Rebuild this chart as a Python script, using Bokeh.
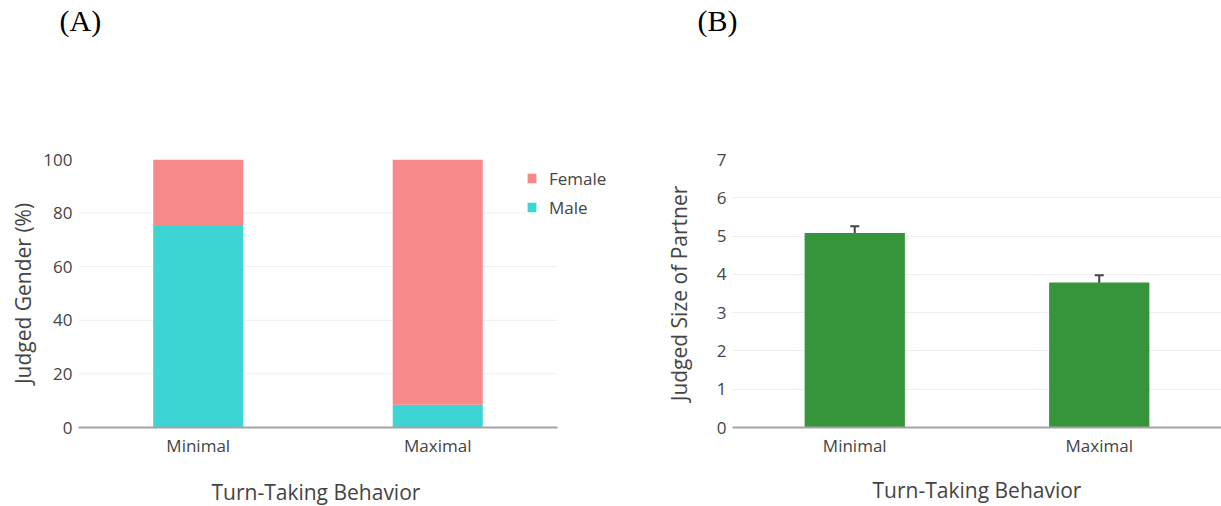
from bokeh.plotting import figure
from bokeh.models import (ColumnDataSource, FactorRange, Range1d, Title,
                          FixedTicker, Legend, LegendItem, Whisker, TeeHead)
from bokeh.layouts import row
from bokeh.embed import file_html
from bokeh.resources import INLINE

# ---------------- data ----------------
categories = ["Minimal", "Maximal"]
male_pct = [75.2, 8.5]
female_pct = [24.8, 91.5]
gender_ticks = [0, 20, 40, 60, 80, 100]

size_mean = [5.08, 3.79]
size_err = [0.175, 0.185]
size_ticks = [0, 1, 2, 3, 4, 5, 6, 7]

x_title = "Turn-Taking Behavior"
y_title_a = "Judged Gender (%)"
y_title_b = "Judged Size of Partner"
panel_labels = ["(A)", "(B)"]

FONT = "Open Sans"
TXT = "#444444"
GRID = "#eeeeee"
AXIS = "#a3a3a3"
FEMALE = "#f8898a"
MALE = "#3dd4d4"
GREEN = "#36943a"


def style_axes(p, ytitle, ystand, xlabel):
    p.outline_line_color = None
    p.xgrid.grid_line_color = None
    for ax in p.yaxis:
        ax.axis_line_color = None
        ax.major_tick_line_color = None
        ax.minor_tick_line_color = None
        ax.major_tick_out = 0
        ax.major_tick_in = 0
        ax.minor_tick_out = 0
        ax.major_label_text_font = FONT
        ax.major_label_text_font_size = "17px"
        ax.major_label_text_color = TXT
        ax.major_label_standoff = 6
        ax.axis_label = ytitle
        ax.axis_label_text_font = FONT
        ax.axis_label_text_font_size = "21px"
        ax.axis_label_text_font_style = "normal"
        ax.axis_label_text_color = TXT
        ax.axis_label_standoff = ystand
    for ax in p.xaxis:
        ax.axis_line_color = AXIS
        ax.axis_line_width = 2
        ax.major_tick_line_color = None
        ax.minor_tick_line_color = None
        ax.major_tick_out = 0
        ax.major_tick_in = 0
        ax.minor_tick_out = 0
        ax.major_label_text_font = FONT
        ax.major_label_text_font_size = "17px"
        ax.major_label_text_color = TXT
        ax.major_label_standoff = 6
        if xlabel:
            ax.axis_label = x_title
            ax.axis_label_text_font = FONT
            ax.axis_label_text_font_size = "21px"
            ax.axis_label_text_font_style = "normal"
            ax.axis_label_text_color = TXT
            ax.axis_label_standoff = 16


def panel_title(p, text, offset):
    # a blank spacer panel keeps the panel label near the top of the figure
    p.add_layout(Title(text=" ", standoff=120, text_font_size="1px"), "above")
    p.title = Title(text=text, align="left", offset=offset, standoff=0,
                    text_font="Liberation Serif", text_font_size="30px",
                    text_font_style="normal", text_color="#000000")


# ---------------- panel A ----------------
n = len(categories)
x_pos = [i + 0.5 for i in range(n)]
src_a = ColumnDataSource(dict(x=x_pos, Male=male_pct, Female=female_pct))
p1 = figure(x_range=Range1d(0, 2.284), y_range=Range1d(0, gender_ticks[-1]),
            width=660, height=506, output_backend="svg", toolbar_location=None,
            min_border_left=78, min_border_right=35, min_border_top=159, min_border_bottom=79)
# horizontal grid lines spanning only the category area
for t in gender_ticks[1:-1]:
    p1.segment(x0=0, x1=n, y0=t, y1=t, line_color=GRID, line_width=1)
p1.ygrid.grid_line_color = None
rs = p1.vbar_stack(["Male", "Female"], x="x", width=0.376, source=src_a,
                   color=[MALE, FEMALE], line_color=None)
p1.yaxis.ticker = FixedTicker(ticks=gender_ticks)
p1.xaxis.ticker = FixedTicker(ticks=x_pos)
p1.xaxis.major_label_overrides = {x: c for x, c in zip(x_pos, categories)}
p1.xaxis.bounds = (0, n)
style_axes(p1, y_title_a, 3, False)
# x-axis title centred under the category area (the frame is wider, for the legend)
p1.add_layout(Title(text=" ", standoff=13, text_font_size="1px"), "below")
p1.add_layout(Title(text=x_title, align="left", offset=133, standoff=0,
                    text_font=FONT, text_font_size="21px", text_font_style="normal",
                    text_color=TXT), "below")
legend = Legend(items=[LegendItem(label="Female", renderers=[rs[1]]),
                       LegendItem(label="Male", renderers=[rs[0]])],
                location=(448, 208), glyph_width=11, glyph_height=12,
                label_standoff=12, padding=11, spacing=5, label_height=24,
                label_text_font=FONT, label_text_font_size="17px", label_text_color=TXT,
                border_line_color=None, background_fill_color="white",
                background_fill_alpha=1.0, margin=0)
p1.add_layout(legend)
panel_title(p1, panel_labels[0], -19)

# ---------------- panel B ----------------
upper = [m + e for m, e in zip(size_mean, size_err)]
lower = [m - e for m, e in zip(size_mean, size_err)]
src_b = ColumnDataSource(dict(cat=categories, mean=size_mean, upper=upper, lower=lower))
p2 = figure(x_range=FactorRange(*categories), y_range=Range1d(0, size_ticks[-1]),
            width=561, height=506, output_backend="svg", toolbar_location=None,
            min_border_left=72, min_border_right=0, min_border_top=159, min_border_bottom=79)
p2.ygrid.grid_line_color = GRID
p2.ygrid.ticker = FixedTicker(ticks=size_ticks[1:-1])
p2.vbar(x="cat", top="mean", width=0.41, source=src_b, color=GREEN, line_color=None)
wh = Whisker(base="cat", upper="upper", lower="lower", source=src_b,
             line_color="#444444", line_width=2,
             upper_head=TeeHead(size=9, line_color="#444444", line_width=2),
             lower_head=TeeHead(size=9, line_color="#444444", line_width=2))
p2.add_layout(wh)
p2.yaxis.ticker = FixedTicker(ticks=size_ticks)
style_axes(p2, y_title_b, 21, True)
panel_title(p2, panel_labels[1], -35)

layout = row(p1, p2)
open("out.html", "w").write(file_html(layout, INLINE))
